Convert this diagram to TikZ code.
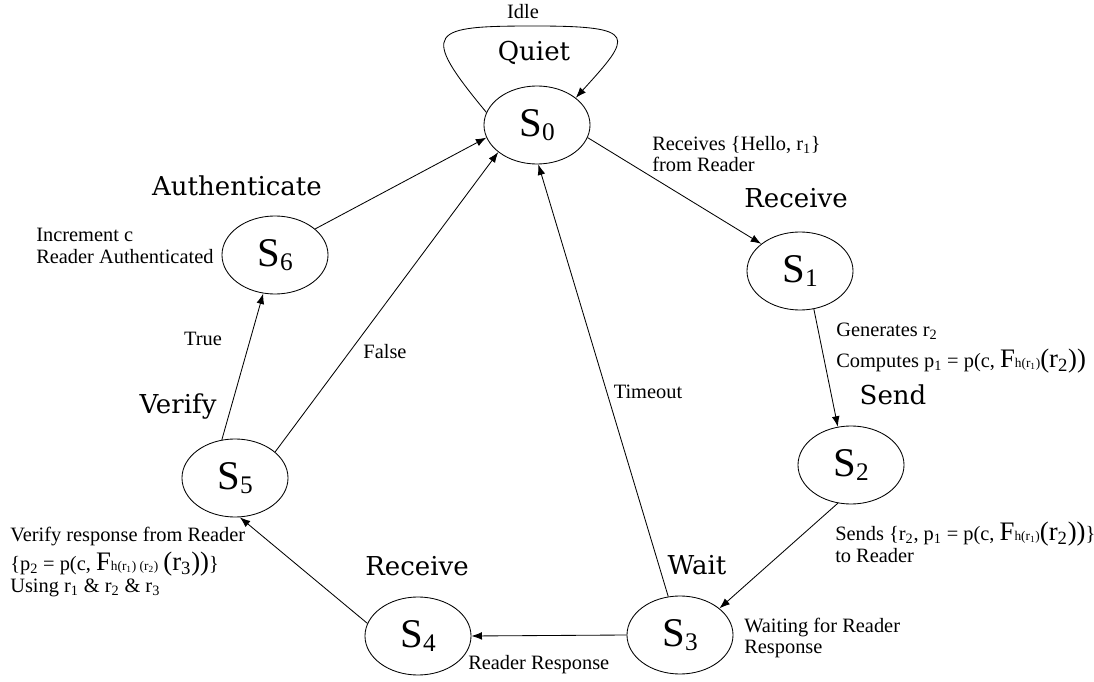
\documentclass[tikz,border=0pt]{standalone}
\usepackage{fontspec}
\setmainfont{Liberation Serif}
\newfontfamily\phasefont{DejaVu Serif}
\usetikzlibrary{arrows.meta,shapes.geometric}

% sizes for the formula parts
\newcommand{\bigsz}{\fontsize{19}{19}\selectfont}
\newcommand{\tinysz}{\fontsize{9.5}{9.5}\selectfont}
\newcommand{\Fh}{{\bigsz F}{\tinysz h(r\textsubscript{1})}}
\newcommand{\stname}[1]{{\fontsize{29}{29}\selectfont S}\raisebox{-2.5pt}{\fontsize{18}{18}\selectfont #1}}

\begin{document}
\begin{tikzpicture}[x=0.025cm,y=-0.025cm,>={Latex[length=7.5pt,width=5.5pt]},
  state/.style={draw,ellipse,minimum width=2.65cm,minimum height=1.95cm,inner sep=0pt,line width=0.6pt},
  phase/.style={font=\phasefont\fontsize{18.5}{20}\selectfont,inner sep=0pt},
  note/.style={font=\fontsize{14.5}{15.6}\selectfont,align=left,anchor=west,inner sep=0pt},
  trans/.style={->,line width=0.6pt}]
\useasboundingbox (0,0) rectangle (1094,682);

% states
\node[state] (S0) at (537,125) {\stname{0}};
\node[state] (S1) at (800,271) {\stname{1}};
\node[state] (S2) at (851,465) {\stname{2}};
\node[state] (S3) at (680,635) {\stname{3}};
\node[state] (S4) at (418,636) {\stname{4}};
\node[state] (S5) at (235,478) {\stname{5}};
\node[state] (S6) at (275,255) {\stname{6}};

% phase names
\node[phase] (quiet) at (534,53) {Quiet};
\node[phase] (recv1) at (796,198) {Receive};
\node[phase] (send) at (893,395) {Send};
\node[phase] (wait) at (697,565) {Wait};
\node[phase] (recv2) at (417,566) {Receive};
\node[phase] (verify) at (178,407) {Verify};
\node[phase] (auth) at (237,186) {Authenticate};

% what happens on each step
\node[note] (n01) at (652,154) {Receives \{Hello, r\textsubscript{1}\}\\from Reader};
\node[note] (n12) at (836,348) {Generates r\textsubscript{2}\\[7pt]Computes p\textsubscript{1} = p(c, \Fh{\bigsz(r\textsubscript{2}))}};
\node[note] (n23) at (835,542) {Sends \{r\textsubscript{2}, p\textsubscript{1} = p(c, \Fh{\bigsz(r\textsubscript{2}))}\}\\to Reader};
\node[note] (n3) at (744,638) {Waiting for Reader\\Response};
\node[note] (n34) at (468,665) {Reader Response};
\node[note] (n45) at (10,562) {Verify response from Reader\\[3pt]\{p\textsubscript{2} = p(c, {\bigsz F}{\tinysz h(r\textsubscript{1}) (r\textsubscript{2})} {\bigsz(r\textsubscript{3}))}\}\\Using r\textsubscript{1} \& r\textsubscript{2} \& r\textsubscript{3}};
\node[note] (n6) at (36,246) {Increment c\\Reader Authenticated};
\node[note,anchor=center] (idle) at (523,12) {Idle};
\node[note,anchor=center] (true) at (203,339) {True};
\node[note,anchor=center] (false) at (385,352) {False};
\node[note,anchor=center] (tout) at (648,392) {Timeout};

% transitions
\draw[trans] (S0.166) .. controls (418,30) and (430,26) .. (535,26)
  .. controls (640,26) and (632,36) .. (S0.35);
\draw[trans] (S0.-14) -- (S1.145);
\draw[trans] (S1.290) -- (S2.109);
\draw[trans] (S2.251) -- (S3.34);
\draw[trans] (S3.180) -- (S4.0);
\draw[trans] (S3.107) -- (S0.272);
\draw[trans] (S4.166) -- (S5.277);
\draw[trans] (S5.109) -- (S6.253);
\draw[trans] (S5.33) -- (S0.215);
\draw[trans] (S6.33) -- (S0.194);
\end{tikzpicture}
\end{document}
